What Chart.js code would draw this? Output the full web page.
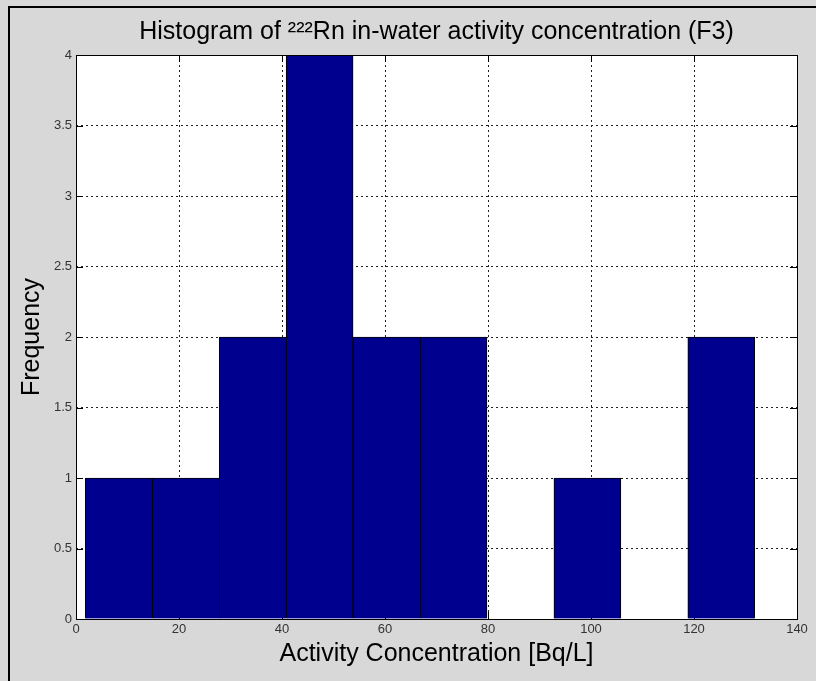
<!DOCTYPE html>
<html>
<head>
<meta charset="utf-8">
<script src="https://cdn.jsdelivr.net/npm/chart.js@4.4.1/dist/chart.umd.min.js"></script>
<style>
  html, body { margin: 0; padding: 0; background: #d8d8d8; }
  #wrap { position: relative; width: 816px; height: 681px; overflow: hidden; }
  #frame { position: absolute; left: 8px; top: 6px; width: 900px; height: 800px;
           border-top: 2px solid #000; border-left: 2px solid #000; }
  #chart { position: absolute; left: 0; top: 0; }
</style>
</head>
<body>
<div id="wrap">
  <div id="frame"></div>
  <canvas id="chart" width="816" height="681"></canvas>
</div>
<script>
// histogram bins (centres, Bq/L) and counts
const BIN_CENTERS = [8.3, 21.3, 34.3, 47.3, 60.3, 73.3, 86.3, 99.3, 112.3, 125.3];
const COUNTS = [1, 1, 2, 4, 2, 2, 0, 1, 0, 2];
const X_TICKS = [0, 20, 40, 60, 80, 100, 120, 140];
const Y_TICKS = [0, 0.5, 1, 1.5, 2, 2.5, 3, 3.5, 4];

const TITLE_TEXT = "Histogram of \u00B2\u00B2\u00B2Rn in-water activity concentration (F3)";
const FONT = "'Liberation Sans', Arial, sans-serif";

// white plot area, inward ticks under the bars, black box on top
const axesBox = {
    id: "axesBox",
    beforeDraw(chart) {
        const a = chart.chartArea;
        const ctx = chart.ctx;
        ctx.save();
        ctx.fillStyle = "#fff";
        ctx.fillRect(a.left, a.top, a.right - a.left, a.bottom - a.top);
        ctx.restore();
    },
    beforeDatasetsDraw(chart) {
        const a = chart.chartArea;
        const ctx = chart.ctx;
        const len = 7;
        ctx.save();
        ctx.strokeStyle = "#000";
        ctx.lineWidth = 1;
        ctx.beginPath();
        chart.scales.x.ticks.forEach(t => {
            const px = Math.round(chart.scales.x.getPixelForValue(t.value)) + 0.5;
            ctx.moveTo(px, a.bottom); ctx.lineTo(px, a.bottom - len);
            ctx.moveTo(px, a.top); ctx.lineTo(px, a.top + len);
        });
        chart.scales.y.ticks.forEach(t => {
            const py = Math.round(chart.scales.y.getPixelForValue(t.value)) + 0.5;
            ctx.moveTo(a.left, py); ctx.lineTo(a.left + len, py);
            ctx.moveTo(a.right, py); ctx.lineTo(a.right - len, py);
        });
        ctx.stroke();
        ctx.restore();
    },
    afterDatasetsDraw(chart) {
        const a = chart.chartArea;
        const ctx = chart.ctx;
        ctx.save();
        ctx.strokeStyle = "#000";
        ctx.lineWidth = 1;
        ctx.strokeRect(Math.round(a.left) + 0.5, Math.round(a.top) + 0.5,
                       Math.round(a.right - a.left), Math.round(a.bottom - a.top));
        ctx.restore();
    }
};

// thin single edges between touching bars
function barBorder(c) {
    const i = c.dataIndex;
    const next = COUNTS[i + 1];
    return { top: 1, left: 1, bottom: 0, right: (next === undefined || next < COUNTS[i]) ? 1 : 0 };
}

const ctx = document.getElementById("chart").getContext("2d");
new Chart(ctx, {
    type: "bar",
    data: {
        datasets: [{
            label: "Frequency",
            data: BIN_CENTERS.map((x, i) => ({ x: x, y: COUNTS[i] })),
            backgroundColor: "rgb(0,0,143)",
            borderColor: "#000",
            borderWidth: barBorder,
            borderSkipped: false,
            barPercentage: 1,
            categoryPercentage: 1
        }]
    },
    options: {
        responsive: false,
        animation: false,
        layout: { padding: { left: 0, right: 19, top: 0, bottom: 0 } },
        plugins: {
            legend: { display: false },
            tooltip: { enabled: false },
            title: {
                display: true,
                fullSize: false,
                text: TITLE_TEXT,
                color: "#000",
                font: { family: FONT, size: 25, weight: "normal", lineHeight: 1.2 },
                padding: { top: 17, bottom: 8 }
            }
        },
        scales: {
            x: {
                type: "linear",
                min: 0,
                max: 140,
                offset: false,
                afterBuildTicks(s) { s.ticks = X_TICKS.map(v => ({ value: v })); },
                afterFit(s) { s.height = 62; },
                grid: {
                    color: "#222",
                    lineWidth: 1,
                    offset: false,
                    drawTicks: false
                },
                border: { display: false, dash: [2, 3] },
                ticks: {
                    color: "#333",
                    padding: 3,
                    maxRotation: 0,
                    font: { family: FONT, size: 13 },
                    callback: v => String(v)
                },
                title: {
                    display: true,
                    text: "Activity Concentration [Bq/L]",
                    color: "#000",
                    font: { family: FONT, size: 25, lineHeight: 1.2 },
                    padding: { top: 0, bottom: 12 }
                }
            },
            y: {
                min: 0,
                max: 4,
                afterBuildTicks(s) { s.ticks = Y_TICKS.map(v => ({ value: v })); },
                afterFit(s) { s.width = 76; },
                grid: {
                    color: "#222",
                    lineWidth: 1,
                    drawTicks: false
                },
                border: { display: false, dash: [2, 3] },
                ticks: {
                    color: "#333",
                    padding: 4,
                    font: { family: FONT, size: 13 },
                    callback: v => String(v)
                },
                title: {
                    display: true,
                    text: "Frequency",
                    color: "#000",
                    font: { family: FONT, size: 25, lineHeight: 1.2 },
                    padding: { top: 17, bottom: 0 }
                }
            }
        }
    },
    plugins: [axesBox]
});
</script>
</body>
</html>
